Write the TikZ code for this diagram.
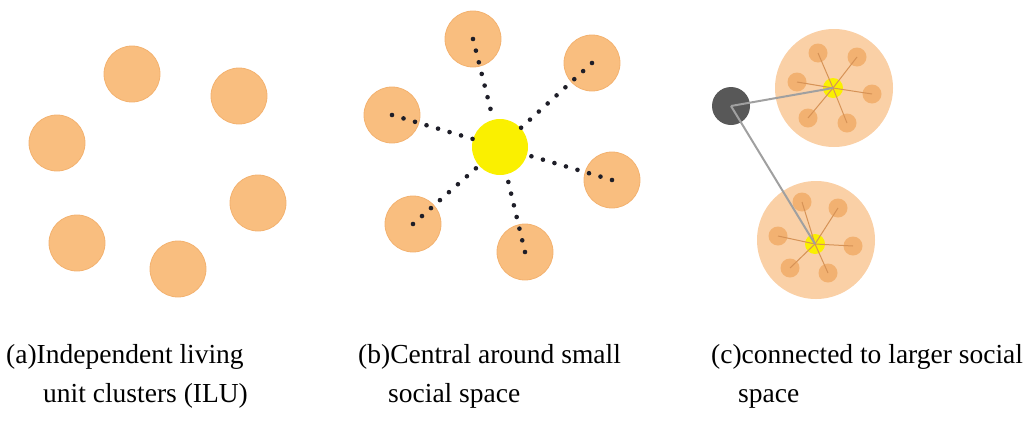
\documentclass[tikz,border=0pt]{standalone}
\usepackage{fontspec}
\setmainfont{Liberation Serif}
\usepackage{tikz}
\usetikzlibrary{backgrounds}

\definecolor{unitorange}{RGB}{249,190,127}
\definecolor{unitedge}{RGB}{243,178,112}
\definecolor{bigorange}{RGB}{250,208,166}
\definecolor{smallorange}{RGB}{241,172,104}
\definecolor{spoke}{RGB}{214,146,86}
\definecolor{hubyellow}{RGB}{250,240,0}
\definecolor{darkhub}{RGB}{88,88,88}
\definecolor{linkgrey}{RGB}{160,160,160}
\definecolor{dotcol}{RGB}{30,30,40}

\begin{document}
\begin{tikzpicture}[
  x=1pt, y=-1pt,
  unit/.style={circle, fill=unitorange, draw=unitedge, line width=0.8pt, minimum size=56pt, inner sep=0pt},
  hub/.style={circle, fill=hubyellow, minimum size=56pt, inner sep=0pt},
  group/.style={circle, fill=bigorange, minimum size=118pt, inner sep=0pt},
  subunit/.style={circle, fill=smallorange, fill opacity=0.85, minimum size=19pt, inner sep=0pt},
  subhub/.style={circle, fill=hubyellow, minimum size=20pt, inner sep=0pt},
  bighub/.style={circle, fill=darkhub, minimum size=38pt, inner sep=0pt},
  dots/.style={dotcol, line width=4.6pt, line cap=round, dash pattern=on 0pt off 12pt},
  spokeline/.style={spoke, line width=1pt},
  link/.style={linkgrey, line width=2pt},
  caption/.style={anchor=base west, inner sep=0pt, font=\fontsize{27.5}{27.5}\selectfont}
]
\useasboundingbox (0,0) rectangle (1036,421);

% (a) independent units
\node[unit] (a1) at (132,74)  {};
\node[unit] (a2) at (239,96)  {};
\node[unit] (a3) at (57,143)  {};
\node[unit] (a4) at (258,203) {};
\node[unit] (a5) at (77,243)  {};
\node[unit] (a6) at (178,269) {};

% (b) units around a small social space
\node[unit] (b1) at (473,39)  {};
\node[unit] (b2) at (592,63)  {};
\node[unit] (b3) at (392,115) {};
\node[unit] (b4) at (612,180) {};
\node[unit] (b5) at (413,224) {};
\node[unit] (b6) at (525,252) {};
\node[hub]  (b0) at (500,147) {};

\draw[dots] (b1.center) -- (b0);
\draw[dots] (b2.center) -- (b0);
\draw[dots] (b3.center) -- (b0);
\draw[dots] (b4.center) -- (b0);
\draw[dots] (b5.center) -- (b0);
\draw[dots] (b6.center) -- (b0);

% (c) clusters linked to a larger social space
\node[group]   (cu) at (834,88)  {};
\node[subunit] (cu1) at (818,53) {};
\node[subunit] (cu2) at (857,57) {};
\node[subunit] (cu3) at (797,82) {};
\node[subunit] (cu4) at (872,94) {};
\node[subunit] (cu5) at (808,118) {};
\node[subunit] (cu6) at (847,123) {};
\node[subhub]  (cu0) at (833,88) {};

\node[group]   (cd) at (816,240) {};
\node[subunit] (cd1) at (802,202) {};
\node[subunit] (cd2) at (838,208) {};
\node[subunit] (cd3) at (778,236) {};
\node[subunit] (cd4) at (853,246) {};
\node[subunit] (cd5) at (790,268) {};
\node[subunit] (cd6) at (828,273) {};
\node[subhub]  (cd0) at (815,244) {};

\foreach \i in {1,...,6} {
  \draw[spokeline] (cu0.center) -- (cu\i.center);
  \draw[spokeline] (cd0.center) -- (cd\i.center);
}

\node[bighub] (c0) at (731,106) {};
\draw[link] (c0.center) -- (cu0.center);
\draw[link] (c0.center) -- (cd0.center);

% captions
\node[caption] (ta1) at (6,363)   {(a)Independent living};
\node[caption] (ta2) at (43,402)  {unit clusters (ILU)};
\node[caption] (tb1) at (358,363) {(b)Central around small};
\node[caption] (tb2) at (388,402) {social space};
\node[caption] (tc1) at (711,363) {(c)connected to larger\ social};
\node[caption] (tc2) at (738,402) {space};
\end{tikzpicture}
\end{document}
